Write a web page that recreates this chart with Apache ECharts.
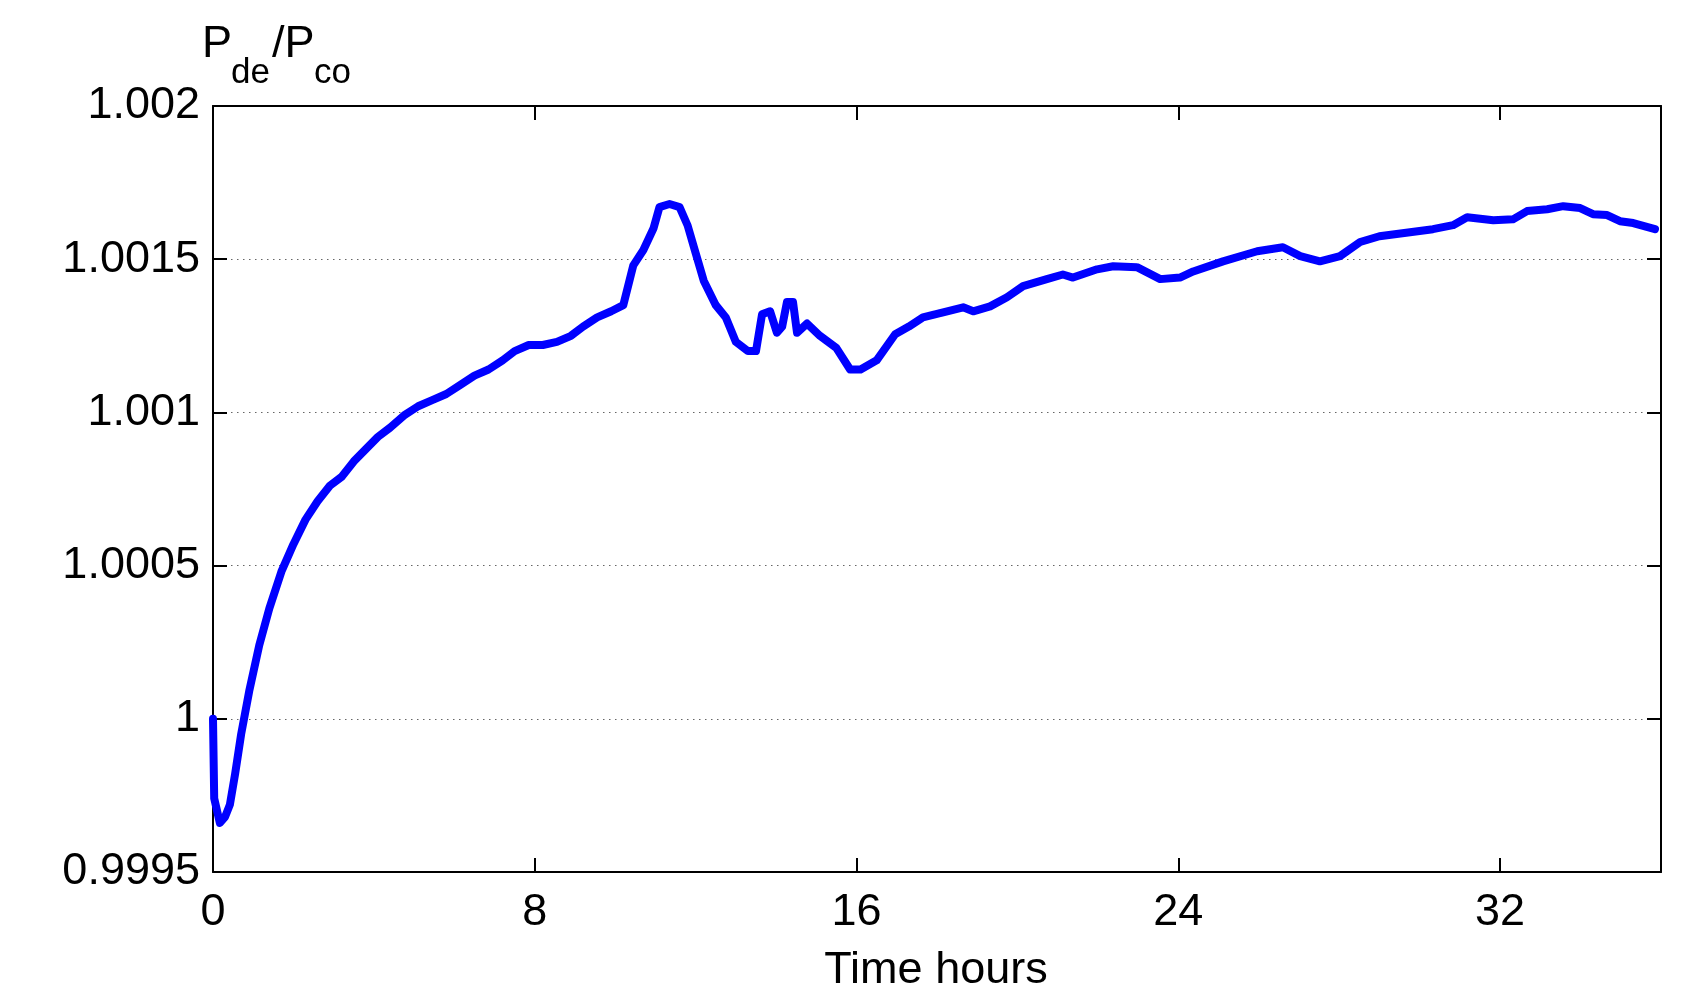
<!DOCTYPE html>
<html>
<head>
<meta charset="utf-8">
<script src="https://cdn.jsdelivr.net/npm/echarts@6/dist/echarts.min.js"></script>
<style>
html,body{margin:0;padding:0;background:#fff;}
#chart{width:1694px;height:1000px;}
</style>
</head>
<body>
<div id="chart"></div>
<script>
const hours = [0, 0.03, 0.17, 0.30, 0.42, 0.55, 0.70, 0.90, 1.15, 1.40, 1.70, 2.00, 2.30, 2.60, 2.90, 3.20, 3.50, 3.80, 4.10, 4.40, 4.75, 5.10, 5.45, 5.80, 6.15, 6.50, 6.85, 7.20, 7.50, 7.85, 8.20, 8.55, 8.90, 9.20, 9.55, 9.90, 10.20, 10.45, 10.70, 10.95, 11.10, 11.35, 11.60, 11.80, 12.00, 12.20, 12.50, 12.75, 13.00, 13.30, 13.50, 13.65, 13.85, 14.02, 14.15, 14.27, 14.42, 14.52, 14.77, 15.09, 15.50, 15.84, 16.10, 16.50, 16.96, 17.30, 17.65, 18.25, 18.65, 18.90, 19.32, 19.74, 20.14, 20.73, 21.13, 21.38, 21.98, 22.38, 22.97, 23.55, 24.04, 24.37, 25.11, 25.96, 26.60, 27.03, 27.52, 28.02, 28.52, 29.00, 29.76, 30.33, 30.83, 31.18, 31.83, 32.32, 32.67, 33.17, 33.57, 33.99, 34.31, 34.66, 34.98, 35.31, 35.85];
const ratio = [1.00000, 0.99974, 0.99966, 0.99968, 0.99972, 0.99982, 0.99995, 1.00009, 1.00024, 1.00036, 1.00048, 1.00057, 1.00065, 1.00071, 1.00076, 1.00079, 1.00084, 1.00088, 1.00092, 1.00095, 1.00099, 1.00102, 1.00104, 1.00106, 1.00109, 1.00112, 1.00114, 1.00117, 1.00120, 1.00122, 1.00122, 1.00123, 1.00125, 1.00128, 1.00131, 1.00133, 1.00135, 1.00148, 1.00153, 1.00160, 1.00167, 1.00168, 1.00167, 1.00161, 1.00152, 1.00143, 1.00135, 1.00131, 1.00123, 1.00120, 1.00120, 1.00132, 1.00133, 1.00126, 1.00128, 1.00136, 1.00136, 1.00126, 1.00129, 1.00125, 1.00121, 1.00114, 1.00114, 1.00117, 1.001255, 1.00128, 1.00131, 1.00133, 1.001343, 1.00133, 1.001346, 1.001376, 1.001412, 1.001435, 1.00145, 1.00144, 1.001467, 1.001477, 1.001474, 1.001435, 1.00144, 1.00146, 1.001493, 1.001526, 1.001539, 1.00151, 1.001493, 1.00151, 1.001556, 1.001575, 1.001588, 1.001598, 1.001611, 1.001637, 1.001627, 1.00163, 1.001657, 1.001663, 1.001673, 1.001667, 1.001647, 1.001644, 1.001624, 1.001618, 1.001598];
const xTicks = {min: 0, max: 36, interval: 8};
const yTicks = {min: 0.9995, max: 1.002, interval: 0.0005};
const xTitle = 'Time hours';

const FONT = "'Liberation Sans', Arial, sans-serif";
const chart = echarts.init(document.getElementById('chart'), null, {renderer: 'canvas'});
const lineStyle = {color: '#000', width: 2};
const seriesData = hours.map((h, i) => [h, ratio[i]]);
const fmtY = v => String(parseFloat(Number(v).toFixed(4)));

chart.setOption({
  animation: false,
  backgroundColor: '#fff',
  grid: {left: 213, right: 33, top: 106, bottom: 128, containLabel: false},
  xAxis: [
    {type: 'value', position: 'bottom', min: xTicks.min, max: xTicks.max, interval: xTicks.interval,
     axisLine: {onZero: false, lineStyle: lineStyle},
     axisTick: {inside: true, length: 14, lineStyle: lineStyle},
     axisLabel: {fontFamily: FONT, fontSize: 45, color: '#000', margin: 18, showMaxLabel: false},
     splitLine: {show: false}},
    {type: 'value', position: 'top', min: xTicks.min, max: xTicks.max, interval: xTicks.interval,
     axisLine: {onZero: false, lineStyle: lineStyle},
     axisTick: {inside: true, length: 14, lineStyle: lineStyle},
     axisLabel: {show: false}, splitLine: {show: false}}
  ],
  yAxis: [
    {type: 'value', position: 'left', min: yTicks.min, max: yTicks.max, interval: yTicks.interval,
     axisLine: {onZero: false, show: true, lineStyle: lineStyle},
     axisTick: {show: true, inside: true, length: 14, lineStyle: lineStyle},
     axisLabel: {fontFamily: FONT, fontSize: 45, color: '#000', margin: 13, formatter: fmtY},
     splitLine: {show: true, lineStyle: {color: '#666', width: 1, type: [1.5, 4.5]}}},
    {type: 'value', position: 'right', min: yTicks.min, max: yTicks.max, interval: yTicks.interval,
     axisLine: {onZero: false, show: true, lineStyle: lineStyle},
     axisTick: {show: true, inside: true, length: 14, lineStyle: lineStyle},
     axisLabel: {show: false}, splitLine: {show: false}}
  ],
  series: [{
    type: 'line', xAxisIndex: 0, yAxisIndex: 0, data: seriesData,
    showSymbol: false, symbol: 'none', smooth: false,
    lineStyle: {color: '#0000FF', width: 8, join: 'round', cap: 'round'},
    z: 3
  }],
  graphic: [
    {type: 'text', x: 202, y: 45, z: 10, style: {text: 'P', fontFamily: FONT, fontSize: 45, fill: '#000', verticalAlign: 'middle', align: 'left'}},
    {type: 'text', x: 231, y: 73, z: 10, style: {text: 'de', fontFamily: FONT, fontSize: 35, fill: '#000', verticalAlign: 'middle', align: 'left'}},
    {type: 'text', x: 272, y: 45, z: 10, style: {text: '/P', fontFamily: FONT, fontSize: 45, fill: '#000', verticalAlign: 'middle', align: 'left'}},
    {type: 'text', x: 314, y: 73, z: 10, style: {text: 'co', fontFamily: FONT, fontSize: 35, fill: '#000', verticalAlign: 'middle', align: 'left'}},
    {type: 'text', x: 936, y: 971, z: 10, style: {text: xTitle, fontFamily: FONT, fontSize: 45, fill: '#000', verticalAlign: 'middle', align: 'center'}}
  ]
});
</script>
</body>
</html>
